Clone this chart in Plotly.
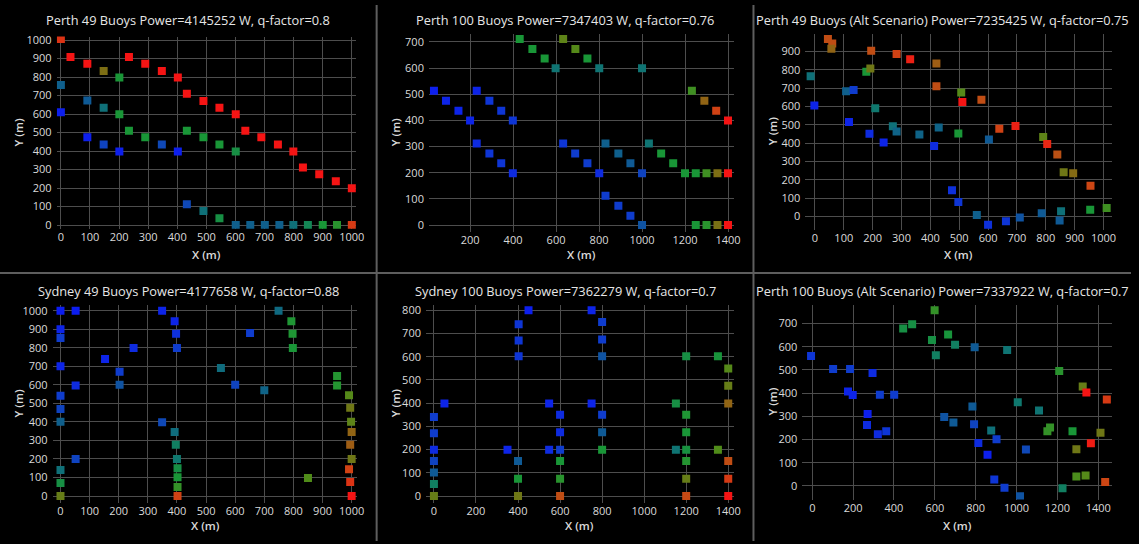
import plotly.graph_objects as go

W, H = 1139, 544

# ---------------- data ----------------
titles = [
    "Perth 49 Buoys Power=4145252 W, q-factor=0.8",
    "Perth 100 Buoys Power=7347403 W, q-factor=0.76",
    "Perth 49 Buoys (Alt Scenario) Power=7235425 W, q-factor=0.75",
    "Sydney 49 Buoys Power=4177658 W, q-factor=0.88",
    "Sydney 100 Buoys Power=7362279 W, q-factor=0.7",
    "Perth 100 Buoys (Alt Scenario) Power=7337922 W, q-factor=0.7",
]

# Perth 49
x1 = [0, 33, 91, 147, 201, 0, 91, 147, 201, 0, 91, 147, 201,
      234, 290, 347, 402, 433, 490, 545, 601, 634, 689, 746, 799, 832, 888, 945, 1000,
      234, 290, 347, 402, 433, 490, 545, 601,
      433, 490, 545, 601, 651, 701, 751, 799, 849, 900, 949, 1000]
y1 = [1005, 908, 872, 833, 797, 757, 673, 634, 599, 609, 474, 435, 398,
      908, 872, 833, 797, 709, 671, 634, 599, 510, 474, 435, 398, 311, 274, 236, 199,
      510, 474, 435, 398, 510, 474, 435, 398,
      112, 76, 37, 0, 0, 0, 0, 0, 0, 0, 0, 0]
p1 = [0.92, 1.0, 1.0, 0.75, 0.55, 0.3, 0.28, 0.38, 0.55, 0.03, 0.03, 0.18, 0.03,
      1.0, 1.0, 1.0, 1.0, 1.0, 1.0, 1.0, 1.0, 1.0, 1.0, 1.0, 1.0, 1.0, 1.0, 1.0, 1.0,
      0.55, 0.55, 0.2, 0.03, 0.55, 0.55, 0.55, 0.52,
      0.2, 0.38, 0.52, 0.3, 0.3, 0.3, 0.3, 0.38, 0.48, 0.55, 0.58, 0.9]

# Perth 100
x2 = [32, 88, 146, 200, 231, 290, 345, 399, 231, 290, 345, 399,
      633, 689, 746, 801, 830, 890, 946, 1000, 830, 890, 946, 1000,
      1032, 1089, 1145, 1200, 1250, 1300, 1351, 1400,
      431, 490, 547, 598, 633, 690, 746, 801, 1000,
      1232, 1290, 1345, 1400, 1250, 1300, 1351, 1400]
y2 = [513, 475, 437, 400, 513, 475, 437, 400, 312, 274, 236, 198,
      312, 274, 236, 198, 112, 74, 36, 0, 312, 274, 236, 198,
      312, 274, 236, 198, 198, 198, 198, 198,
      711, 673, 637, 599, 711, 673, 637, 599, 599,
      513, 475, 437, 400, 0, 0, 0, 0]
p2 = [0.03, 0.05, 0.05, 0.05, 0.05, 0.12, 0.12, 0.12, 0.08, 0.12, 0.12, 0.08,
      0.12, 0.15, 0.15, 0.08, 0.15, 0.15, 0.15, 0.25, 0.3, 0.3, 0.28, 0.18,
      0.4, 0.55, 0.55, 0.55, 0.55, 0.62, 0.75, 1.0,
      0.55, 0.55, 0.55, 0.4, 0.68, 0.66, 0.55, 0.4, 0.4,
      0.62, 0.78, 0.88, 1.0, 0.55, 0.58, 0.74, 1.0]

# Perth 49 alt
x3 = [45, 60, 57, -15, -2, 108, 134, 118, 178, 192, 195, 209, 189, 238, 270, 283,
      283, 330, 362, 413, 429, 421, 421, 507, 511, 497, 577, 603, 639, 695, 791, 805,
      840, 862, 895, 955, 475, 497, 561, 600, 662, 710, 786, 848, 853, 954, 1011]
y3 = [968, 943, 914, 764, 605, 683, 690, 515, 789, 807, 903, 590, 451, 403, 492, 463,
      886, 857, 447, 385, 485, 834, 710, 676, 624, 453, 637, 420, 479, 494, 433, 395,
      338, 242, 236, 168, 143, 80, 9, -45, -25, -5, 18, -21, 29, 38, 47]
p3 = [0.85, 0.85, 0.78, 0.38, 0.05, 0.3, 0.15, 0.05, 0.55, 0.72, 0.85, 0.42, 0.08, 0.05, 0.38, 0.32,
      0.88, 0.97, 0.32, 0.08, 0.32, 0.8, 0.85, 0.66, 1.0, 0.55, 0.85, 0.28, 0.88, 0.97, 0.68, 0.95,
      0.84, 0.72, 0.76, 0.87, 0.1, 0.12, 0.3, 0.1, 0.12, 0.25, 0.28, 0.28, 0.38, 0.55, 0.62]

# Sydney 49
x4 = [0, 52, 0, 0, 0, 52, 0, 0, 0, 52, 0, 0, 0,
      153, 203, 203, 251, 349, 392, 397, 400,
      349, 392, 396, 400, 402, 402, 402, 402,
      551, 600, 651, 700, 749, 793, 797, 798, 850, 950, 950,
      991, 995, 998, 1000, 995, 1000, 991, 995, 1000]
y4 = [1000, 1000, 900, 852, 700, 597, 541, 470, 401, 200, 141, 71, 0,
      739, 670, 601, 799, 1000, 943, 875, 799,
      398, 346, 277, 200, 150, 101, 49, 0,
      691, 601, 880, 571, 1000, 943, 875, 799, 97, 647, 597,
      544, 477, 401, 346, 277, 200, 145, 76, 0]
p4 = [0.02, 0.02, 0.05, 0.15, 0.05, 0.08, 0.15, 0.18, 0.3, 0.18, 0.38, 0.52, 0.7,
      0.05, 0.15, 0.25, 0.08, 0.05, 0.05, 0.1, 0.15,
      0.2, 0.36, 0.45, 0.42, 0.52, 0.55, 0.6, 0.88,
      0.36, 0.18, 0.15, 0.32, 0.35, 0.56, 0.56, 0.55, 0.65, 0.57, 0.57,
      0.66, 0.72, 0.68, 0.78, 0.8, 0.72, 0.88, 0.92, 1.0]

# Sydney 100
x5 = [0, 0, 0, 0, 0, 0, 0, 50, 350, 403, 403, 403, 450, 400, 400, 400,
      548, 600, 600, 600, 548, 600, 600, 600,
      750, 800, 800, 800, 750, 800, 800, 800,
      1200, 1351, 1400, 1400, 1400, 1151, 1200, 1200, 1151, 1200, 1351, 1200, 1200, 1200,
      1400, 1400, 1400]
y5 = [341, 271, 200, 151, 102, 52, 0, 399, 200, 602, 670, 740, 800, 151, 75, 0,
      399, 350, 275, 200, 200, 151, 75, 0,
      800, 750, 674, 602, 399, 350, 275, 200,
      602, 602, 550, 475, 399, 399, 350, 275, 200, 200, 200, 151, 75, 0,
      151, 75, 0]
p5 = [0.15, 0.15, 0.08, 0.18, 0.28, 0.45, 0.7, 0.05, 0.05, 0.12, 0.12, 0.12, 0.03, 0.28, 0.55, 0.72,
      0.05, 0.08, 0.08, 0.15, 0.08, 0.55, 0.58, 0.85,
      0.05, 0.15, 0.15, 0.25, 0.05, 0.15, 0.28, 0.55,
      0.52, 0.54, 0.66, 0.7, 0.78, 0.52, 0.56, 0.55, 0.4, 0.53, 0.65, 0.57, 0.7, 0.86,
      0.85, 0.9, 1.0]

# Perth 100 alt
x6 = [-6, 102, 185, 175, 198, 295, 331, 401, 271, 268, 321, 362,
      445, 489, 599, 586, 665, 605, 699, 795, 954,
      646, 691, 784, 792, 813, 876, 902, 858, 891, 941, 1017, 1046,
      1006, 1110, 1209, 1151, 1164, 1274, 1324, 1342, 1442, 1293, 1364, 1411,
      1293, 1338, 1434, 1225]
y6 = [560, 504, 504, 407, 392, 487, 393, 393, 310, 262, 222, 235,
      679, 697, 757, 629, 653, 563, 608, 598, 586,
      297, 273, 342, 266, 185, 239, 201, 134, 27, -8, -45, 157,
      361, 325, 495, 236, 252, 236, 428, 403, 372, 158, 184, 229,
      40, 45, 17, -10]
p6 = [0.12, 0.15, 0.15, 0.05, 0.05, 0.08, 0.15, 0.15, 0.03, 0.08, 0.08, 0.12,
      0.52, 0.52, 0.6, 0.52, 0.54, 0.45, 0.45, 0.28, 0.4,
      0.25, 0.28, 0.28, 0.18, 0.08, 0.38, 0.15, 0.03, 0.12, 0.15, 0.25, 0.2,
      0.42, 0.4, 0.58, 0.6, 0.6, 0.55, 0.7, 1.0, 0.9, 0.72, 0.98, 0.72,
      0.64, 0.66, 0.87, 0.45]

xs = [x1, x2, x3, x4, x5, x6]
ys = [y1, y2, y3, y4, y5, y6]
ps = [p1, p2, p3, p4, p5, p6]

# ---------------- style ----------------
colorscale = [
    [0.0, "rgb(12,24,245)"],
    [0.15, "rgb(15,60,205)"],
    [0.3, "rgb(15,95,140)"],
    [0.42, "rgb(15,120,110)"],
    [0.55, "rgb(25,150,55)"],
    [0.65, "rgb(80,140,25)"],
    [0.75, "rgb(125,110,20)"],
    [0.87, "rgb(205,70,20)"],
    [1.0, "rgb(245,20,20)"],
]

# plot area boxes in pixels: left, right, top, bottom
boxes = [
    (57, 359, 32, 227),
    (432, 739, 29, 230),
    (811, 1120, 29, 228),
    (53, 360, 304, 505),
    (429, 739, 304, 505),
    (808, 1120, 304, 502),
]
xranges = [(-14.7, 1016), (8.8, 1427), (-33.4, 1030), (-27, 1020), (-37.8, 1426.5), (-48.7, 1468)]
yranges = [(-19.7, 1019), (-25, 732), (-71, 997), (-35, 1033), (-28, 825), (-59.4, 782)]
xdt = [100, 200, 100, 100, 200, 200]

FONT = "Open Sans"
TXT = "#dadada"
GRID = "#4d4d4d"

fig = go.Figure()
layout = dict(
    width=W, height=H,
    margin=dict(l=0, r=0, t=0, b=0),
    paper_bgcolor="black", plot_bgcolor="black",
    showlegend=False,
    font=dict(family=FONT, color=TXT, size=11),
)
annotations = []
for i in range(6):
    k = "" if i == 0 else str(i + 1)
    l, r, t, b = boxes[i]
    fig.add_trace(go.Scatter(
        x=xs[i], y=ys[i], mode="markers",
        xaxis="x" + k, yaxis="y" + k,
        marker=dict(symbol="square", size=8, color=ps[i], colorscale=colorscale,
                    cmin=0, cmax=1, showscale=False, line=dict(width=0)),
        hoverinfo="x+y",
    ))
    layout["xaxis" + k] = dict(
        domain=[l / W, r / W], range=list(xranges[i]), anchor="y" + k,
        dtick=xdt[i], tick0=0, showgrid=True, gridcolor=GRID, gridwidth=1,
        zeroline=False, showline=False, ticks="", ticklabelstandoff=0,
        tickfont=dict(size=11, color=TXT, family=FONT),
    )
    layout["yaxis" + k] = dict(
        domain=[1 - b / H, 1 - t / H], range=list(yranges[i]), anchor="x" + k,
        dtick=100, tick0=0, showgrid=True, gridcolor=GRID, gridwidth=1,
        zeroline=False, showline=False, ticks="", ticklabelstandoff=4,
        tickfont=dict(size=11, color=TXT, family=FONT),
    )
    col = i % 3
    row = i // 3
    pcx = (col * 379.5 + (col + 1) * 379.5) / 2
    ty = 15 if row == 0 else 290
    annotations.append(dict(text=titles[i], x=pcx / W, y=1 - ty / H, xref="paper", yref="paper",
                            showarrow=False, xanchor="center", yanchor="middle",
                            font=dict(size=12.8, color="#e6e6e6", family=FONT)))
    # axis titles
    xty = 253.5 if row == 0 else 528
    annotations.append(dict(text="X (m)", x=((l + r) / 2) / W, y=1 - xty / H, xref="paper", yref="paper",
                            showarrow=False, xanchor="center", yanchor="middle",
                            font=dict(size=11.5, color=TXT, family=FONT, weight=600)))
    ytx = col * 379.5 + 19
    annotations.append(dict(text="Y (m)", x=ytx / W, y=1 - ((t + b) / 2) / H, xref="paper", yref="paper",
                            showarrow=False, xanchor="center", yanchor="middle", textangle=-90,
                            font=dict(size=11.5, color=TXT, family=FONT, weight=600)))

shapes = []
SEP = "#5e5e5e"
for xv in (379.3, 758.8):
    shapes.append(dict(type="line", xref="paper", yref="paper", x0=xv / W, x1=xv / W, y0=0, y1=1,
                       line=dict(color=SEP, width=2)))
shapes.append(dict(type="line", xref="paper", yref="paper", x0=0, x1=1, y0=1 - 272 / H, y1=1 - 272 / H,
                   line=dict(color=SEP, width=2)))
layout["annotations"] = annotations
layout["shapes"] = shapes
fig.update_layout(**layout)
fig.write_html("out.html")
